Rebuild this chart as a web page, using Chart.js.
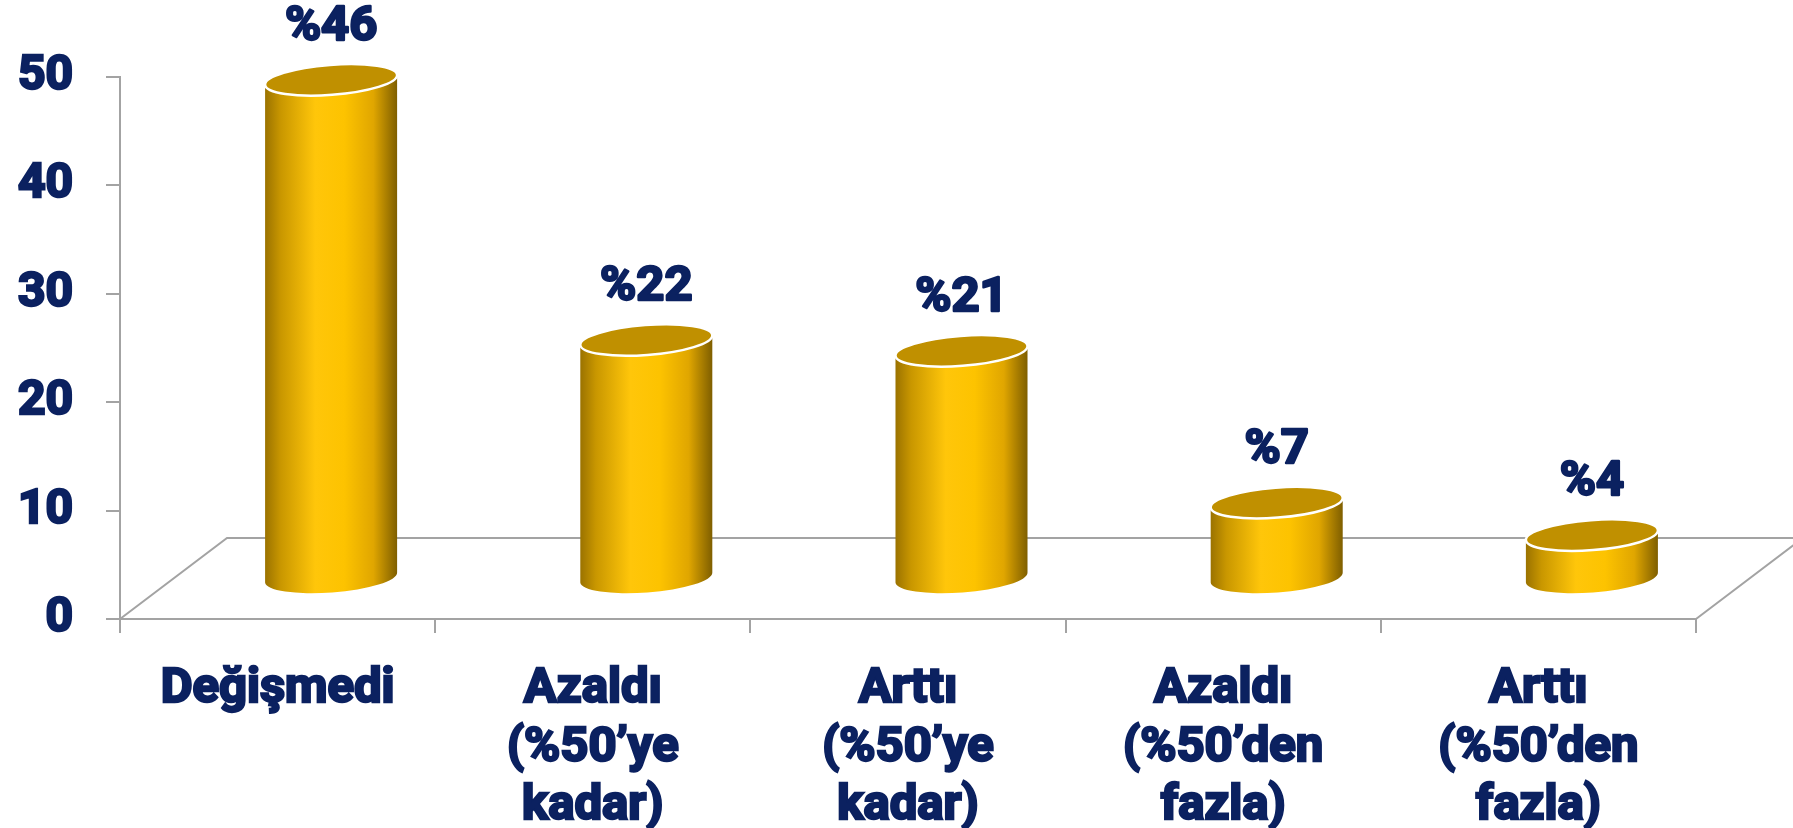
<!DOCTYPE html>
<html><head><meta charset="utf-8">
<script src="https://cdn.jsdelivr.net/npm/chart.js@4/dist/chart.umd.min.js"></script>
<style>html,body{margin:0;padding:0;background:#fff;overflow:hidden}</style>
</head><body>
<canvas id="c" width="1793" height="828"></canvas>
<script>
const categories = [["Değişmedi"], ["Azaldı","(%50’ye","kadar)"], ["Arttı","(%50’ye","kadar)"], ["Azaldı","(%50’den","fazla)"], ["Arttı","(%50’den","fazla)"]];
const values = [46, 22, 21, 7, 4];
const valueLabels = ["%46", "%22", "%21", "%7", "%4"];
const yTicks = [0, 10, 20, 30, 40, 50];

const NAVY = '#0b2160';
const GRAY = '#a3a3a3';
const FONT = "Roboto, Inter, 'Liberation Sans', sans-serif";
const DEPTH_X = 107, DEPTH_Y = 81;

const cylinderPlugin = {
  id: 'cyl3d',
  beforeDatasetsDraw(chart) {
    const ctx = chart.ctx, a = chart.chartArea;
    ctx.save();
    ctx.strokeStyle = GRAY; ctx.lineWidth = 2;
    ctx.beginPath();
    ctx.moveTo(a.left, a.bottom); ctx.lineTo(a.left + DEPTH_X, a.bottom - DEPTH_Y);
    ctx.lineTo(a.right + DEPTH_X, a.bottom - DEPTH_Y);
    ctx.lineTo(a.right, a.bottom);
    ctx.stroke();
    ctx.restore();
  },
  afterDatasetsDraw(chart) {
    const ctx = chart.ctx;
    const meta = chart.getDatasetMeta(0);
    meta.data.forEach((bar, i) => {
      const p = bar.getProps(['x', 'y', 'base', 'width'], true);
      const cx = p.x + DEPTH_X / 2;
      const topY = p.y - DEPTH_Y / 2;
      const baseY = p.base - DEPTH_Y / 2;
      const rx = p.width / 2, ry = 15, rot = -0.075;
      ctx.save();
      const g = ctx.createLinearGradient(cx - rx, 0, cx + rx, 0);
      g.addColorStop(0, '#9a7200');
      g.addColorStop(0.12, '#c99700');
      g.addColorStop(0.38, '#ffc60a');
      g.addColorStop(0.6, '#fdc300');
      g.addColorStop(0.82, '#e0a600');
      g.addColorStop(1, '#7e5e00');
      ctx.beginPath();
      ctx.ellipse(cx, baseY, rx, ry, rot, Math.PI, 0, true);
      ctx.ellipse(cx, topY, rx, ry, rot, 0, Math.PI, false);
      ctx.closePath();
      ctx.fillStyle = g; ctx.fill();
      ctx.beginPath();
      ctx.ellipse(cx, topY, rx, ry, rot, 0, Math.PI * 2);
      ctx.fillStyle = '#c09000'; ctx.fill();
      ctx.strokeStyle = '#ffffff'; ctx.lineWidth = 2.5; ctx.stroke();
      ctx.fillStyle = NAVY; ctx.strokeStyle = NAVY; ctx.lineWidth = 2.5; ctx.lineJoin = 'round';
      ctx.font = `bold 49px ${FONT}`;
      ctx.textAlign = 'center'; ctx.textBaseline = 'middle';
      ctx.strokeText(valueLabels[i], cx, topY - 52);
      ctx.fillText(valueLabels[i], cx, topY - 52);
      ctx.restore();
    });
  }
};

new Chart(document.getElementById('c'), {
  type: 'bar',
  data: {
    labels: categories,
    datasets: [{ data: values, backgroundColor: 'rgba(0,0,0,0)', borderWidth: 0, categoryPercentage: 1, barPercentage: 0.42 }]
  },
  options: {
    responsive: false, animation: false,
    devicePixelRatio: 1,
    layout: { padding: { top: 77, right: 97, left: 0, bottom: 0 } },
    plugins: { legend: { display: false }, tooltip: { enabled: false } },
    scales: {
      x: {
        afterFit: s => { s.height = 209; },
        grid: { drawOnChartArea: false, color: GRAY, tickLength: 14, lineWidth: 2, offset: true },
        border: { color: GRAY, width: 2 },
        ticks: { color: NAVY, padding: 28, maxRotation: 0, autoSkip: false,
          textStrokeColor: NAVY, textStrokeWidth: 2.5,
          font: { family: FONT, size: 49, weight: 'bold', lineHeight: 1.19 } }
      },
      y: {
        min: 0, max: 50,
        afterFit: s => { s.width = 120; },
        afterBuildTicks: s => { s.ticks = yTicks.map(v => ({ value: v })); },
        grid: { drawOnChartArea: false, color: GRAY, tickLength: 14, lineWidth: 2 },
        border: { color: GRAY, width: 2 },
        ticks: { color: NAVY, padding: 33, textStrokeColor: NAVY, textStrokeWidth: 2.5,
          font: { family: FONT, size: 48, weight: 'bold' } }
      }
    }
  },
  plugins: [cylinderPlugin]
});
</script>
</body></html>
